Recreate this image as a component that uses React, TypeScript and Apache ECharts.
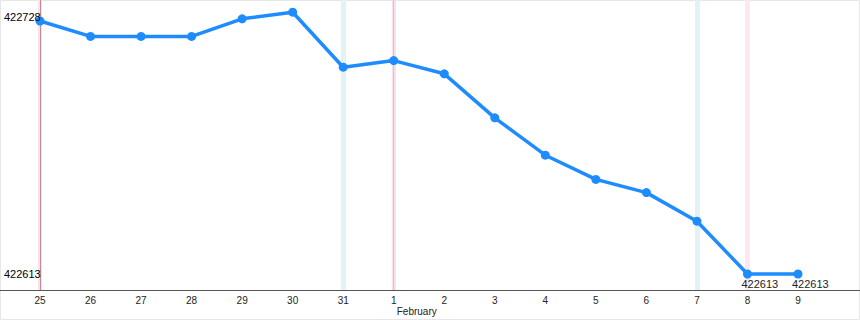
import React, { useEffect, useRef } from "react";
import * as echarts from "echarts";

const dayLabels = ["25", "26", "27", "28", "29", "30", "31", "1", "2", "3", "4", "5", "6", "7", "8", "9"];
const values = [422728, 422721, 422721, 422721, 422729, 422732, 422707, 422710, 422704, 422684, 422667, 422656, 422650, 422637, 422613, 422613];
const yTickValues = [422613, 422728];
const monthLabelIndex = 7;
const monthLabel = "February";
const blueBandIdx = [6, 13];
const pinkBandIdx = [14];
const monthStartIdx = [0, 7];
const labeledPointIdx = [14, 15];

export default function App() {
  const ref = useRef<HTMLDivElement>(null);
  useEffect(() => {
    document.body.style.margin = "0";
    const chart = echarts.init(ref.current!, null, { renderer: "svg" });
    const n = dayLabels.length;
    const idx = dayLabels.map((_, i) => i);
    const xMin = -0.7916;
    const xMax = n - 1 + 1.227;
    const yMin = 422605.73;
    const yMax = 422737.55;
    const topTick = Math.max(...yTickValues);
    const markData: any[] = [];
    blueBandIdx.forEach((i) =>
      markData.push({ xAxis: i, lineStyle: { color: "#e4f1f6", width: 5, type: "solid", opacity: 1 } })
    );
    pinkBandIdx.forEach((i) =>
      markData.push({ xAxis: i, lineStyle: { color: "#fde7f1", width: 5, type: "solid", opacity: 1 } })
    );
    monthStartIdx.forEach((i, k) => {
      markData.push({ xAxis: i, lineStyle: { color: "#f9e1ec", width: 4, type: "solid", opacity: 1 } });
      markData.push({ xAxis: i, lineStyle: { color: k === 0 ? "#c08a9b" : "#e2bccb", width: 1, type: "solid", opacity: 1 } });
    });
    chart.setOption({
      animation: false,
      backgroundColor: "#ffffff",
      grid: { left: 0, right: 0, top: 0, bottom: 30 },
      xAxis: [
        {
          type: "value",
          min: xMin,
          max: xMax,
          splitLine: { show: false },
          axisLine: { show: true, onZero: false, lineStyle: { color: "#555", width: 1 } },
          axisTick: { show: false },
          axisLabel: {
            customValues: idx,
            formatter: (v: number) => dayLabels[Math.round(v)] ?? "",
            fontSize: 10,
            color: "#222",
            fontFamily: "Liberation Sans, Arial, sans-serif",
            margin: 5,
          },
        },
        {
          type: "value",
          position: "bottom",
          min: xMin,
          max: xMax,
          splitLine: { show: false },
          axisLine: { show: false },
          axisTick: { show: false },
          axisLabel: {
            customValues: [monthLabelIndex],
            formatter: () => monthLabel,
            fontSize: 10,
            color: "#222",
            align: "left",
            padding: [0, 0, 0, 3],
            fontFamily: "Liberation Sans, Arial, sans-serif",
            margin: 16,
          },
        },
      ],
      yAxis: {
        type: "value",
        min: yMin,
        max: yMax,
        splitLine: { show: false },
        axisLine: { show: false },
        axisTick: { show: false },
        z: 5,
        axisLabel: {
          inside: true,
          customValues: yTickValues,
          margin: 4,
          fontSize: 11,
          color: "#000",
          fontFamily: "Liberation Sans, Arial, sans-serif",
          formatter: (v: number) => (v === topTick ? "{t|" + String(v) + "}" : String(v)),
          rich: { t: { fontSize: 11, color: "#000", padding: [0, 0, 9, 0], fontFamily: "Liberation Sans, Arial, sans-serif" } },
        },
      },
      graphic: [
        {
          type: "rect",
          z: -1,
          shape: { x: 0.5, y: 0.5, width: 859, height: 319 },
          style: { fill: "none", stroke: "#e6e6e6", lineWidth: 1 },
        },
      ],
      series: [
        {
          type: "line",
          data: values.map((v, i) => ({
            value: [i, v],
            label: labeledPointIdx.includes(i)
              ? {
                  show: true,
                  position: "bottom",
                  distance: 0,
                  align: "left",
                  offset: [-6, 0],
                  formatter: String(v),
                  fontSize: 11,
                  color: "#222",
                  fontFamily: "Liberation Sans, Arial, sans-serif",
                }
              : { show: false },
          })),
          symbol: "circle",
          symbolSize: 9,
          showSymbol: true,
          itemStyle: { color: "#1e8cff" },
          lineStyle: { color: "#1e8cff", width: 3.5 },
          z: 3,
          markLine: {
            silent: true,
            symbol: "none",
            label: { show: false },
            animation: false,
            data: markData,
            z: 1,
          },
        },
      ],
    });
    return () => chart.dispose();
  }, []);
  return <div ref={ref} style={{ width: 860, height: 320 }} />;
}
